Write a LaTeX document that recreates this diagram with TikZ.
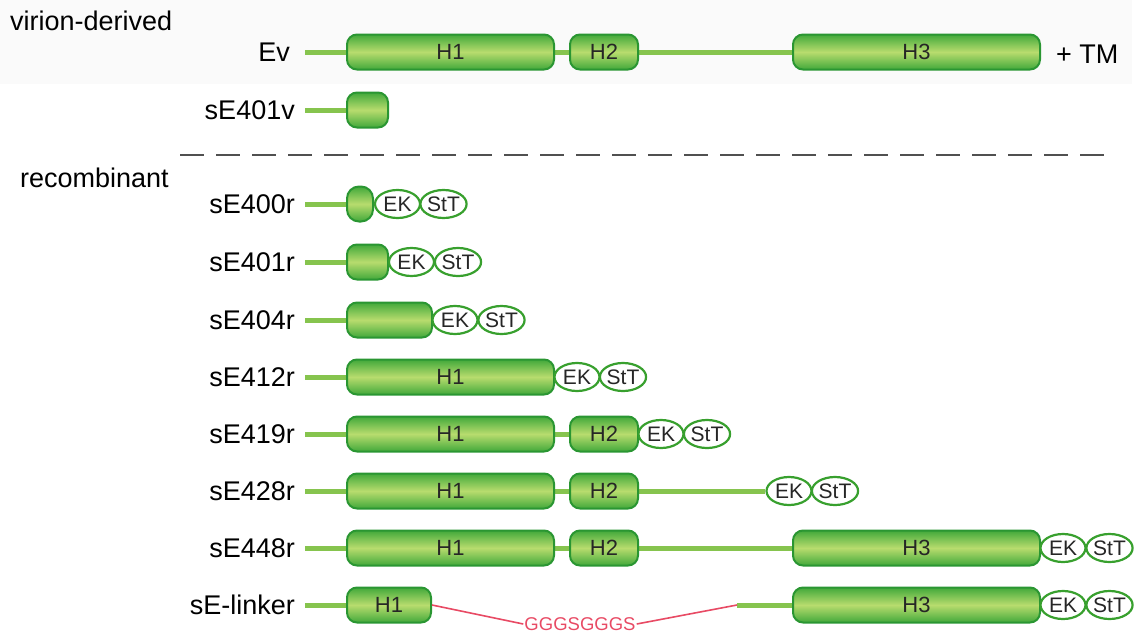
\documentclass[tikz,border=0pt]{standalone}
\usepackage{fontspec}
\setmainfont{Liberation Sans}
\usetikzlibrary{shapes.geometric}
\definecolor{band}{HTML}{FAFAFA}
\definecolor{domborder}{HTML}{2A9632}
\definecolor{domdark}{HTML}{42A93B}
\definecolor{domlight}{HTML}{B8DC6E}
\definecolor{stemcol}{HTML}{86C44E}
\definecolor{tagborder}{HTML}{38A02E}
\definecolor{dashcol}{HTML}{505050}
\definecolor{linkred}{HTML}{E84A64}
\pgfdeclarelayer{bandlayer}
\pgfdeclarelayer{stemlayer}
\pgfsetlayers{bandlayer,stemlayer,main}
\tikzset{
  dom/.style={draw=domborder, line width=2pt, rounded corners=10pt,
    top color=domdark, bottom color=domdark, middle color=domlight,
    minimum height=35pt, inner sep=0pt, text=black!85, font=\fontsize{22}{22}\selectfont},
  tag/.style={ellipse, draw=tagborder, line width=2.2pt, fill=white,
    minimum width=45pt, minimum height=28pt, inner sep=0pt, text=black!85,
    font=\fontsize{21}{21}\selectfont},
  stem/.style={draw=stemcol, line width=5pt},
  lbl/.style={anchor=base east, font=\fontsize{27}{27}\selectfont, inner sep=0pt},
  grp/.style={anchor=base west, font=\fontsize{27}{27}\selectfont, inner sep=0pt},
  linker/.style={draw=linkred, line width=1.6pt},
}
\begin{document}
\begin{tikzpicture}[x=1pt,y=-1pt]
\useasboundingbox (0,0) rectangle (1138,635);
\begin{pgfonlayer}{bandlayer}
\fill[band] (0,0) rectangle (1132,84);
\end{pgfonlayer}
% group labels
\node[grp] (gv) at (10,30) {virion-derived};
\node[grp] (gr) at (20,187) {recombinant};
\draw[dashcol, line width=2.5pt, dash pattern=on 24pt off 12pt] (180,155) -- (1108,155);
% row labels
\node[lbl] (l0) at (290,61) {Ev};
\node[lbl] (l1) at (295,119) {sE401v};
\node[lbl] (l2) at (295,213) {sE400r};
\node[lbl] (l3) at (295,271) {sE401r};
\node[lbl] (l4) at (295,329) {sE404r};
\node[lbl] (l5) at (295,386) {sE412r};
\node[lbl] (l6) at (295,443) {sE419r};
\node[lbl] (l7) at (295,500) {sE428r};
\node[lbl] (l8) at (295,557) {sE448r};
\node[lbl] (l9) at (295,614) {sE-linker};
% Ev
\coordinate (s0) at (305,52);
\node[dom, minimum width=207pt] (ev1) at (450.5,52) {H1};
\node[dom, minimum width=68pt] (ev2) at (604,52) {H2};
\node[dom, minimum width=247pt] (ev3) at (916.5,52) {H3};
\node[anchor=base west, font=\fontsize{27}{27}\selectfont, inner sep=0pt] (tm) at (1056,63) {+ TM};
% sE401v
\coordinate (s1) at (305,110);
\node[dom, minimum width=41pt] (v1) at (367.5,110) {};
% sE400r
\coordinate (s2) at (305,204);
\node[dom, minimum width=26pt, rounded corners=12pt] (a1) at (360,204) {};
\node[tag] (a2) at (397.5,204) {EK};
\node[tag] (a3) at (443.5,204) {StT};
% sE401r
\coordinate (s3) at (305,262);
\node[dom, minimum width=41pt] (b1) at (367.5,262) {};
\node[tag] (b2) at (411.5,262) {EK};
\node[tag] (b3) at (458,262) {StT};
% sE404r
\coordinate (s4) at (305,320);
\node[dom, minimum width=85pt] (c1) at (389.5,320) {};
\node[tag] (c2) at (455,320) {EK};
\node[tag] (c3) at (501.5,320) {StT};
% sE412r
\coordinate (s5) at (305,377);
\node[dom, minimum width=207pt] (d1) at (450.5,377) {H1};
\node[tag] (d2) at (577,377) {EK};
\node[tag] (d3) at (623,377) {StT};
% sE419r
\coordinate (s6) at (305,434);
\node[dom, minimum width=207pt] (e1) at (450.5,434) {H1};
\node[dom, minimum width=68pt] (e2) at (604,434) {H2};
\node[tag] (e3) at (661,434) {EK};
\node[tag] (e4) at (707,434) {StT};
% sE428r
\coordinate (s7) at (305,491);
\node[dom, minimum width=207pt] (f1) at (450.5,491) {H1};
\node[dom, minimum width=68pt] (f2) at (604,491) {H2};
\node[tag] (f3) at (789,491) {EK};
\node[tag] (f4) at (835,491) {StT};
% sE448r
\coordinate (s8) at (305,548);
\node[dom, minimum width=207pt] (g1) at (450.5,548) {H1};
\node[dom, minimum width=68pt] (g2) at (604,548) {H2};
\node[dom, minimum width=247pt] (g3) at (916.5,548) {H3};
\node[tag] (g4) at (1063,548) {EK};
\node[tag] (g5) at (1109.5,548) {StT};
% sE-linker
\coordinate (s9) at (305,605);
\node[dom, minimum width=84pt] (h1) at (389,605) {H1};
\coordinate (hj) at (737,605);
\node[dom, minimum width=247pt] (h3) at (916.5,605) {H3};
\node[tag] (h4) at (1063,605) {EK};
\node[tag] (h5) at (1109.5,605) {StT};
\node[text=linkred, font=\fontsize{18.5}{18.5}\selectfont, inner sep=1pt] (gs) at (580,624) {GGGSGGGS};
\draw[linker] (h1.east) -- (gs.west);
\draw[linker] (gs.east) -- (hj);
% stems
\begin{pgfonlayer}{stemlayer}
\draw[stem] (s0) -- (ev1.west);
\draw[stem] (ev1.east) -- (ev2.west);
\draw[stem] (ev2.east) -- (ev3.west);
\draw[stem] (s1) -- (v1.west);
\draw[stem] (s2) -- (a1.west);
\draw[stem] (s3) -- (b1.west);
\draw[stem] (s4) -- (c1.west);
\draw[stem] (s5) -- (d1.west);
\draw[stem] (s6) -- (e1.west);
\draw[stem] (e1.east) -- (e2.west);
\draw[stem] (s7) -- (f1.west);
\draw[stem] (f1.east) -- (f2.west);
\draw[stem] (f2.east) -- (f3.west);
\draw[stem] (s8) -- (g1.west);
\draw[stem] (g1.east) -- (g2.west);
\draw[stem] (g2.east) -- (g3.west);
\draw[stem] (s9) -- (h1.west);
\draw[stem] (hj) -- (h3.west);
\end{pgfonlayer}
\end{tikzpicture}
\end{document}
